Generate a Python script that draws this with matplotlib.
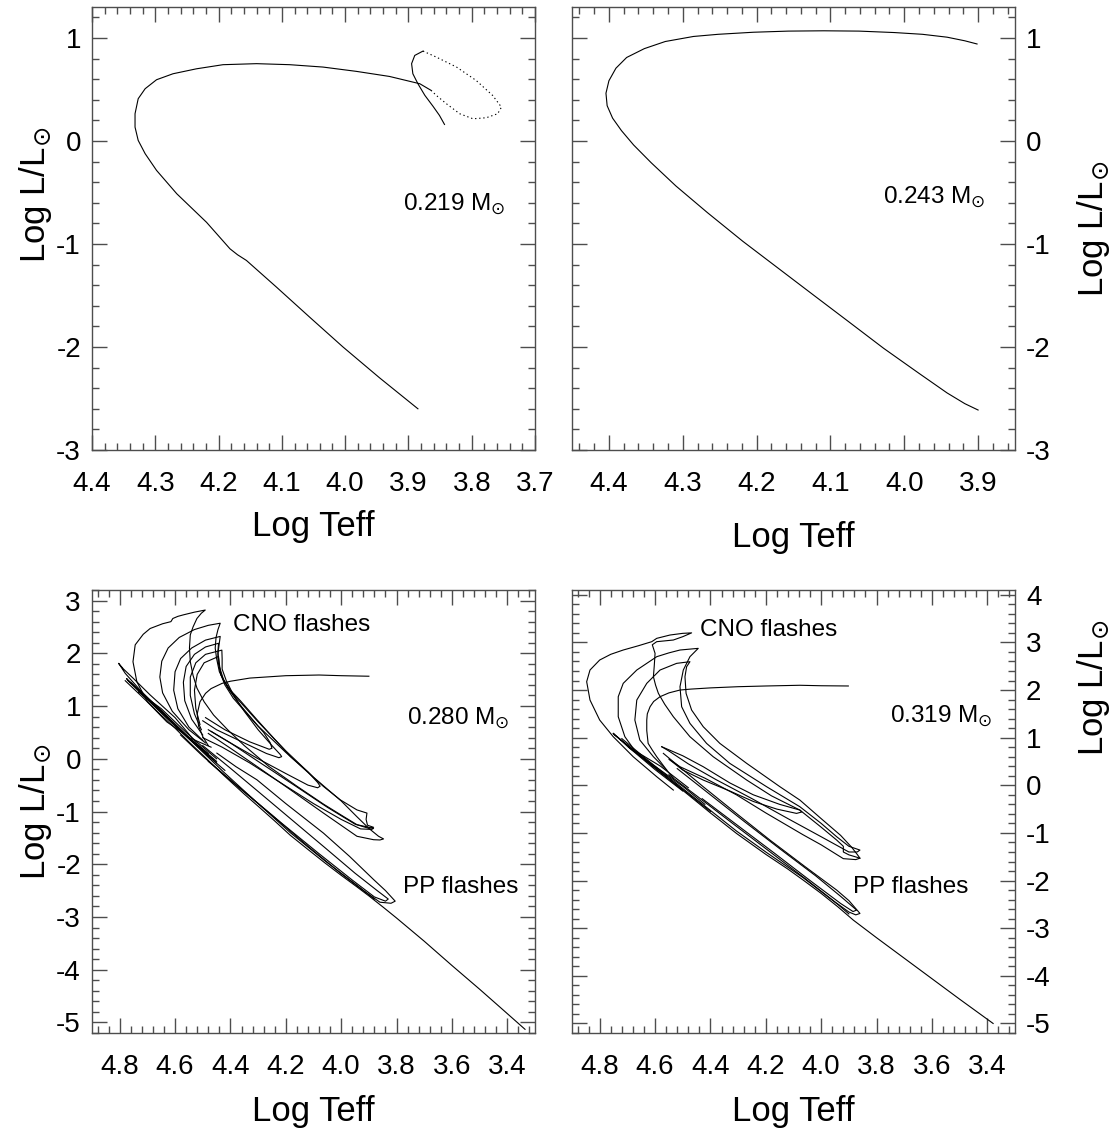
import matplotlib
matplotlib.use("Agg")
import matplotlib.pyplot as plt
import numpy as np
from matplotlib.ticker import MultipleLocator, FormatStrFormatter

plt.rcParams['font.family'] = ['Liberation Sans', 'DejaVu Sans']
plt.rcParams['mathtext.fontset'] = 'dejavusans'
plt.rcParams['axes.unicode_minus'] = False

# ---- track data: (log Teff, log L/Lsun) ----
# 0.219 Msun
t219_start = [(3.843, 0.16), (3.851, 0.248), (3.861, 0.335), (3.874, 0.442), (3.885, 0.555),
              (3.893, 0.652), (3.895, 0.75), (3.89, 0.83), (3.877, 0.872)]
t219_loop = [(3.877, 0.872), (3.856, 0.814), (3.824, 0.717), (3.793, 0.587), (3.767, 0.442),
             (3.753, 0.328), (3.759, 0.264), (3.777, 0.225), (3.798, 0.215), (3.819, 0.264),
             (3.840, 0.361), (3.856, 0.442), (3.864, 0.49)]
t219_main = [(3.864, 0.49), (3.882, 0.555), (3.930, 0.626), (3.982, 0.675), (4.035, 0.717),
             (4.0875, 0.74), (4.14, 0.75), (4.193, 0.74), (4.235, 0.70), (4.272, 0.652),
             (4.298, 0.594), (4.316, 0.507), (4.327, 0.41), (4.332, 0.264), (4.332, 0.134),
             (4.327, 0.005), (4.316, -0.124), (4.298, -0.286), (4.266, -0.513), (4.219, -0.79),
             (4.182, -1.047), (4.170, -1.105), (4.156, -1.16), (4.1085, -1.419), (4.056, -1.711),
             (4.0034, -2.0), (3.9455, -2.30), (3.885, -2.60)]

# 0.243 Msun
t243_main = [(3.9014, 0.941), (3.918, 0.972), (3.942, 1.007), (3.9754, 1.035), (4.0135, 1.052),
             (4.0613, 1.066), (4.109, 1.069), (4.157, 1.066), (4.2044, 1.055), (4.252, 1.035),
             (4.2855, 1.014), (4.3237, 0.965), (4.352, 0.896), (4.376, 0.81), (4.3905, 0.706),
             (4.40, 0.584), (4.404, 0.463), (4.4024, 0.342), (4.395, 0.221), (4.383, 0.10),
             (4.3666, -0.039), (4.3427, -0.212), (4.3093, -0.437), (4.2664, -0.697),
             (4.2187, -0.974), (4.171, -1.234), (4.1233, -1.494), (4.0756, -1.753),
             (4.0279, -2.013), (3.9802, -2.255), (3.942, -2.446), (3.918, -2.55), (3.90, -2.612)]

# 0.280 Msun
t280_segments = [
    [(3.90, 1.565), (4.00, 1.575), (4.08, 1.588), (4.20, 1.575), (4.33, 1.53), (4.40, 1.47),
     (4.43, 1.43), (4.47, 1.33), (4.49, 1.24), (4.51, 1.08), (4.52, 0.85), (4.515, 0.62),
     (4.50, 0.42), (4.48, 0.25)],
    [(4.47, 0.22), (4.545, 0.39), (4.63, 0.70), (4.70, 1.08), (4.738, 1.46), (4.752, 1.84),
     (4.744, 2.16), (4.715, 2.36), (4.69, 2.47), (4.645, 2.56), (4.615, 2.60), (4.608, 2.66),
     (4.59, 2.70), (4.569, 2.73), (4.53, 2.78), (4.491, 2.82), (4.505, 2.76), (4.521, 2.66),
     (4.535, 2.50), (4.545, 2.35), (4.548, 2.10), (4.545, 1.84), (4.535, 1.58), (4.521, 1.34),
     (4.495, 1.08), (4.461, 0.83), (4.41, 0.55), (4.35, 0.25), (4.26, -0.15), (4.16, -0.52),
     (4.064, -0.86), (3.99, -1.10), (3.943, -1.25), (3.90, -1.30), (3.883, -1.32), (3.89, -1.34),
     (3.93, -1.33), (4.00, -1.15), (4.10, -0.85), (4.22, -0.45), (4.33, -0.08), (4.43, 0.22),
     (4.50, 0.40)],
    [(4.49, 0.30), (4.55, 0.55), (4.61, 0.90), (4.645, 1.25), (4.655, 1.55), (4.648, 1.85),
     (4.625, 2.10), (4.585, 2.30), (4.53, 2.45), (4.48, 2.53), (4.437, 2.57), (4.445, 2.45),
     (4.452, 2.30), (4.455, 2.10), (4.45, 1.90), (4.44, 1.65), (4.425, 1.495), (4.40, 1.30),
     (4.364, 1.10), (4.304, 0.74), (4.244, 0.39), (4.184, 0.044), (4.124, -0.24), (4.064, -0.525),
     (4.003, -0.78), (3.943, -0.97), (3.907, -1.03), (3.91, -1.15), (3.905, -1.26), (3.883, -1.30),
     (3.90, -1.32), (3.95, -1.24), (4.05, -0.92), (4.17, -0.50), (4.30, -0.05), (4.40, 0.30),
     (4.47, 0.52)],
    [(4.50, 0.35), (4.55, 0.60), (4.59, 0.95), (4.605, 1.30), (4.60, 1.65), (4.58, 1.90),
     (4.54, 2.10), (4.49, 2.25), (4.437, 2.32), (4.44, 2.20), (4.445, 2.00), (4.44, 1.75),
     (4.425, 1.50), (4.40, 1.28), (4.36, 1.05), (4.30, 0.70), (4.20, 0.15), (4.10, -0.35),
     (4.00, -0.80), (3.943, -1.10), (3.90, -1.32), (3.865, -1.47), (3.847, -1.52), (3.86, -1.54),
     (3.883, -1.535), (3.943, -1.47), (4.064, -1.03), (4.18, -0.60), (4.304, -0.146), (4.40, 0.20),
     (4.48, 0.48)],
    [(4.50, 0.45), (4.54, 0.75), (4.565, 1.10), (4.57, 1.45), (4.56, 1.75), (4.53, 1.98),
     (4.49, 2.12), (4.443, 2.19), (4.445, 2.05), (4.445, 1.85), (4.435, 1.60), (4.41, 1.35),
     (4.37, 1.05), (4.30, 0.62), (4.20, 0.12), (4.12, -0.25), (4.085, -0.45), (4.076, -0.52),
     (4.085, -0.55), (4.12, -0.50), (4.20, -0.28), (4.30, 0.00), (4.40, 0.30), (4.48, 0.55)],
    [(4.505, 0.55), (4.53, 0.85), (4.545, 1.20), (4.545, 1.55), (4.525, 1.82), (4.49, 1.98),
     (4.431, 2.06), (4.43, 1.90), (4.43, 1.70), (4.415, 1.48), (4.39, 1.22), (4.35, 0.90),
     (4.30, 0.55), (4.25, 0.25), (4.22, 0.08), (4.215, 0.04), (4.225, 0.02), (4.27, 0.10),
     (4.35, 0.30), (4.45, 0.55), (4.50, 0.72)],
    [(4.51, 0.65), (4.525, 0.95), (4.53, 1.30), (4.52, 1.60), (4.495, 1.82), (4.443, 1.94),
     (4.44, 1.80), (4.435, 1.60), (4.42, 1.40), (4.39, 1.15), (4.34, 0.85), (4.28, 0.50),
     (4.256, 0.30), (4.25, 0.20), (4.26, 0.18), (4.33, 0.32), (4.42, 0.55), (4.49, 0.78)],
    [(4.48, 0.10), (4.52, 0.28), (4.60, 0.78), (4.69, 1.21), (4.75, 1.52), (4.786, 1.70),
     (4.804, 1.81), (4.80, 1.78), (4.78, 1.62), (4.726, 1.30), (4.63, 0.80), (4.53, 0.30),
     (4.45, -0.08)],
    [(4.45, -0.05), (4.55, 0.40), (4.65, 0.92), (4.73, 1.30), (4.775, 1.52), (4.77, 1.48),
     (4.70, 1.12), (4.60, 0.62), (4.50, 0.14), (4.42, -0.22)],
    [(4.45, 0.0), (4.55, 0.45), (4.65, 0.95), (4.732, 1.27), (4.72, 1.22), (4.64, 0.85),
     (4.55, 0.40), (4.46, -0.02)],
    [(4.449, 0.107), (4.38, -0.15), (4.304, -0.40), (4.20, -0.85), (4.064, -1.41), (3.97, -1.85),
     (3.883, -2.29), (3.84, -2.50), (3.805, -2.70), (3.82, -2.74), (3.86, -2.72), (3.92, -2.50),
     (4.00, -2.18), (4.12, -1.66), (4.25, -1.07), (4.38, -0.50), (4.50, 0.05), (4.58, 0.45)],
    [(4.50, 0.25), (4.40, -0.18), (4.30, -0.62), (4.18, -1.15), (4.06, -1.68), (3.95, -2.17),
     (3.87, -2.50), (3.83, -2.66), (3.84, -2.70), (3.88, -2.62), (3.96, -2.30), (4.08, -1.80),
     (4.22, -1.20), (4.36, -0.58), (4.48, -0.05)],
    [(4.76, 1.45), (4.665, 0.95), (4.55, 0.38), (4.425, -0.25), (4.30, -0.85), (4.184, -1.40),
     (4.06, -1.93), (3.943, -2.40), (3.88, -2.66)],
    [(4.78, 1.48), (4.72, 1.18), (4.665, 0.90), (4.60, 0.58), (4.55, 0.32), (4.50, 0.07),
     (4.425, -0.31), (4.35, -0.67), (4.30, -0.90), (4.24, -1.18), (4.184, -1.45), (4.12, -1.72),
     (4.06, -1.97), (4.00, -2.21), (3.943, -2.43), (3.90, -2.60), (3.847, -2.82), (3.80, -3.02),
     (3.70, -3.46), (3.60, -3.92), (3.50, -4.37), (3.42, -4.74), (3.336, -5.13)],
]

# 0.319 Msun
t319_segments = [
    [(3.902, 2.085), (4.00, 2.09), (4.077, 2.10), (4.20, 2.085), (4.30, 2.07), (4.40, 2.045),
     (4.47, 2.02), (4.51, 2.00), (4.55, 1.94), (4.582, 1.86), (4.605, 1.76), (4.618, 1.65),
     (4.628, 1.50), (4.63, 1.37), (4.63, 1.15), (4.625, 0.88), (4.61, 0.74), (4.594, 0.60),
     (4.558, 0.32), (4.534, 0.15)],
    [(4.534, -0.10), (4.594, 0.18), (4.679, 0.60), (4.751, 1.02), (4.80, 1.37), (4.835, 1.79),
     (4.847, 2.175), (4.835, 2.42), (4.80, 2.63), (4.76, 2.75), (4.715, 2.84), (4.66, 2.93),
     (4.612, 3.015), (4.594, 3.085), (4.546, 3.155), (4.50, 3.19), (4.468, 3.20), (4.50, 3.12),
     (4.534, 3.05), (4.594, 3.015), (4.61, 2.95), (4.60, 2.77), (4.603, 2.50), (4.606, 2.28),
     (4.598, 2.10), (4.588, 1.93), (4.565, 1.70), (4.534, 1.44), (4.474, 1.02), (4.39, 0.60),
     (4.269, 0.11), (4.18, -0.22), (4.077, -0.52), (4.00, -0.88), (3.944, -1.15), (3.92, -1.28),
     (3.92, -1.40), (3.90, -1.46), (3.86, -1.53), (3.875, -1.56), (3.92, -1.54), (4.00, -1.25),
     (4.065, -1.04), (4.20, -0.58), (4.306, -0.20), (4.42, 0.15), (4.51, 0.39), (4.55, 0.55)],
    [(4.558, 0.18), (4.606, 0.39), (4.666, 0.67), (4.709, 1.02), (4.733, 1.44), (4.733, 1.86),
     (4.715, 2.14), (4.666, 2.42), (4.594, 2.70), (4.55, 2.78), (4.51, 2.84), (4.444, 2.875),
     (4.474, 2.70), (4.498, 2.42), (4.51, 2.07), (4.504, 1.65), (4.474, 1.30), (4.414, 0.88),
     (4.33, 0.46), (4.197, -0.03), (4.077, -0.45), (4.00, -0.80), (3.944, -1.08), (3.90, -1.28),
     (3.86, -1.36), (3.87, -1.40), (3.90, -1.40), (4.00, -1.08), (4.12, -0.70), (4.25, -0.28),
     (4.38, 0.12), (4.48, 0.45), (4.55, 0.72), (4.576, 0.81)],
    [(4.558, 0.32), (4.606, 0.60), (4.655, 0.95), (4.673, 1.37), (4.666, 1.79), (4.63, 2.14),
     (4.582, 2.42), (4.522, 2.56), (4.474, 2.595), (4.486, 2.49), (4.492, 2.28), (4.488, 1.93),
     (4.468, 1.58), (4.426, 1.23), (4.366, 0.88), (4.269, 0.46), (4.149, -0.03), (4.077, -0.31),
     (4.00, -0.70), (3.93, -1.05), (3.89, -1.30), (3.87, -1.45), (3.86, -1.53)],
    [(4.576, 0.81), (4.50, 0.62), (4.426, 0.39), (4.33, 0.05), (4.245, -0.20), (4.15, -0.40),
     (4.077, -0.52), (4.07, -0.56), (4.089, -0.59), (4.16, -0.50), (4.245, -0.34), (4.33, -0.12),
     (4.426, 0.11), (4.50, 0.32), (4.546, 0.53)],
    [(4.50, -0.12), (4.60, 0.33), (4.70, 0.82), (4.751, 1.09), (4.745, 1.05), (4.68, 0.76),
     (4.58, 0.28), (4.48, -0.18), (4.40, -0.55)],
    [(4.48, -0.05), (4.58, 0.40), (4.697, 0.81), (4.69, 0.77), (4.60, 0.40), (4.50, -0.02),
     (4.42, -0.40)],
    [(4.570, 0.67), (4.50, 0.33), (4.426, -0.03), (4.30, -0.62), (4.185, -1.15), (4.06, -1.70),
     (3.944, -2.20), (3.90, -2.42), (3.86, -2.69), (3.875, -2.72), (3.90, -2.66), (3.95, -2.45),
     (4.06, -1.95), (4.20, -1.33), (4.32, -0.80), (4.45, -0.22), (4.55, 0.22)],
    [(4.52, 0.35), (4.40, -0.20), (4.28, -0.75), (4.15, -1.33), (4.02, -1.90), (3.93, -2.33),
     (3.872, -2.62), (3.885, -2.65), (3.93, -2.48), (4.04, -2.00), (4.17, -1.42), (4.30, -0.85),
     (4.43, -0.28)],
    [(4.72, 0.98), (4.60, 0.40), (4.48, -0.16), (4.306, -0.96), (4.20, -1.40), (4.065, -1.94),
     (3.94, -2.50), (3.90, -2.70)],
    [(4.751, 1.09), (4.70, 0.84), (4.65, 0.60), (4.60, 0.36), (4.546, 0.11), (4.48, -0.20),
     (4.40, -0.58), (4.306, -1.01), (4.20, -1.45), (4.12, -1.76), (4.065, -1.99), (4.00, -2.27),
     (3.94, -2.55), (3.884, -2.83), (3.80, -3.20), (3.70, -3.63), (3.60, -4.06), (3.50, -4.49),
     (3.379, -5.0)],
]

mass_labels = ['0.219', '0.243', '0.280', '0.319']

ylab = r'Log L/L$_{\odot}$'
xlab = 'Log Teff'
sun = r' M$_{\odot}$'

W, H = 1113, 1135
fig = plt.figure(figsize=(W / 100, H / 100), dpi=100)
aw, ah = 443 / W, 443 / H
ax_tl = fig.add_axes([92 / W, 1 - 450 / H, aw, ah])
ax_tr = fig.add_axes([572 / W, 1 - 450 / H, aw, ah])
ax_bl = fig.add_axes([92 / W, 1 - 1033 / H, aw, ah])
ax_br = fig.add_axes([572 / W, 1 - 1033 / H, aw, ah])


def draw(ax, seg, **kw):
    seg = np.array(seg)
    ax.plot(seg[:, 0], seg[:, 1], color='black', lw=0.8, **kw)


def style(ax, xlim, ylim, xmaj, xmin, right=False):
    ax.set_xlim(*xlim)
    ax.set_ylim(*ylim)
    ax.xaxis.set_major_locator(MultipleLocator(xmaj))
    ax.xaxis.set_minor_locator(MultipleLocator(xmin))
    ax.yaxis.set_major_locator(MultipleLocator(1))
    ax.yaxis.set_minor_locator(MultipleLocator(0.2))
    ax.xaxis.set_major_formatter(FormatStrFormatter('%.1f'))
    ax.yaxis.set_major_formatter(FormatStrFormatter('%d'))
    ax.tick_params(which='both', direction='in', top=True, right=True, left=True,
                   bottom=True, color='0.3', width=1.0)
    ax.tick_params(which='major', length=11, labelsize=20)
    ax.tick_params(which='minor', length=5)
    ax.tick_params(axis='x', which='major', pad=15)
    ax.tick_params(axis='y', which='major', pad=8)
    for s in ax.spines.values():
        s.set_color('0.3')
        s.set_linewidth(1.0)
    ax.set_xlabel(xlab, fontsize=25)
    ax.set_ylabel(ylab, fontsize=25)
    if right:
        ax.tick_params(labelleft=False, labelright=True)
        ax.yaxis.set_label_position('right')
        ax.yaxis.label.set_rotation(90)


# top left
draw(ax_tl, t219_start)
draw(ax_tl, t219_loop, ls=(0, (1.2, 2.5)))
draw(ax_tl, t219_main)
style(ax_tl, (4.4, 3.7), (-3, 1.3), 0.1, 0.02)
ax_tl.yaxis.set_label_coords(-0.085, 0.575)
ax_tl.xaxis.set_label_coords(0.5, -0.135)

# top right
draw(ax_tr, t243_main)
style(ax_tr, (4.45, 3.85), (-3, 1.3), 0.1, 0.02, right=True)
ax_tr.yaxis.set_label_coords(1.135, 0.5)
ax_tr.xaxis.set_label_coords(0.5, -0.16)

# bottom left
for seg in t280_segments:
    draw(ax_bl, seg)
style(ax_bl, (4.9, 3.3), (-5.2, 3.2), 0.2, 0.04)
ax_bl.yaxis.set_label_coords(-0.085, 0.5)
ax_bl.xaxis.set_label_coords(0.5, -0.14)

# bottom right
for seg in t319_segments:
    draw(ax_br, seg)
style(ax_br, (4.9, 3.3), (-5.2, 4.1), 0.2, 0.04, right=True)
ax_br.yaxis.set_label_coords(1.135, 0.78)
ax_br.xaxis.set_label_coords(0.5, -0.14)

# annotations
tkw = dict(fontsize=17.5, va='baseline', ha='left')
ax_tl.text(0.702, 0.54, mass_labels[0] + sun, transform=ax_tl.transAxes, **tkw)
ax_tr.text(0.702, 0.555, mass_labels[1] + sun, transform=ax_tr.transAxes, **tkw)
ax_bl.text(0.711, 0.695, mass_labels[2] + sun, transform=ax_bl.transAxes, **tkw)
ax_br.text(0.718, 0.70, mass_labels[3] + sun, transform=ax_br.transAxes, **tkw)
ax_bl.text(0.318, 0.907, 'CNO flashes', transform=ax_bl.transAxes, **tkw)
ax_br.text(0.289, 0.896, 'CNO flashes', transform=ax_br.transAxes, **tkw)
ax_bl.text(0.702, 0.316, 'PP flashes', transform=ax_bl.transAxes, **tkw)
ax_br.text(0.634, 0.316, 'PP flashes', transform=ax_br.transAxes, **tkw)

fig.savefig('out.png', dpi=100)
